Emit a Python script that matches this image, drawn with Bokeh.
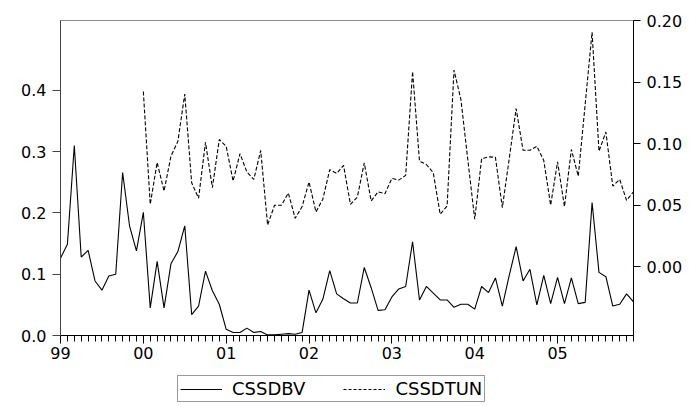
from bokeh.plotting import figure
from bokeh.models import (Range1d, LinearAxis, FixedTicker, Legend, LegendItem,
                          ColumnDataSource, PrintfTickFormatter)
from bokeh.layouts import column
from bokeh.embed import file_html
from bokeh.resources import INLINE

# Monthly data 1999M01 .. 2005M12
year_labels = ["99", "00", "01", "02", "03", "04", "05"]

cssdbv = [0.126, 0.149, 0.310, 0.128, 0.139, 0.089, 0.074, 0.097, 0.100, 0.266, 0.179, 0.138,
          0.201, 0.045, 0.121, 0.045, 0.117, 0.137, 0.179, 0.034, 0.048, 0.105, 0.073, 0.051,
          0.010, 0.005, 0.005, 0.012, 0.005, 0.0065, 0.001, 0.001, 0.002, 0.003, 0.002, 0.005,
          0.074, 0.037, 0.059, 0.106, 0.068, 0.060, 0.053, 0.053, 0.111, 0.078, 0.041, 0.042,
          0.063, 0.076, 0.080, 0.153, 0.058, 0.080, 0.069, 0.058, 0.058, 0.046, 0.051, 0.051,
          0.043, 0.080, 0.070, 0.094, 0.048, 0.098, 0.145, 0.089, 0.108, 0.050, 0.098, 0.052,
          0.095, 0.052, 0.094, 0.052, 0.054, 0.217, 0.103, 0.096, 0.048, 0.051, 0.068, 0.055]

# CSSDTUN starts 2000M01
tun_start = 12
cssdtun = [0.1426, 0.0508, 0.0848, 0.0616, 0.090, 0.102, 0.1405, 0.0683, 0.0557, 0.1013, 0.0643, 0.1035,
           0.098, 0.0697, 0.092, 0.077, 0.071, 0.0946, 0.034, 0.050, 0.050, 0.060, 0.0394, 0.049,
           0.069, 0.0446, 0.055, 0.079, 0.076, 0.0824, 0.0508, 0.0567, 0.0845, 0.0535, 0.061, 0.0594,
           0.0719, 0.0705, 0.0743, 0.1588, 0.0859, 0.0832, 0.0764, 0.0427, 0.0494, 0.160, 0.136, 0.087,
           0.0386, 0.088, 0.0894, 0.0891, 0.048, 0.088, 0.1286, 0.0948, 0.0948, 0.098, 0.0865, 0.0502,
           0.0854, 0.0489, 0.0954, 0.0737, 0.132, 0.1907, 0.094, 0.1096, 0.0656, 0.071, 0.054, 0.061]

left_ticks = [0.0, 0.1, 0.2, 0.3, 0.4]
right_ticks = [0.00, 0.05, 0.10, 0.15, 0.20]
series_names = ["CSSDBV", "CSSDTUN"]

n = len(cssdbv)
x_bv = list(range(n))
x_tun = list(range(tun_start, tun_start + len(cssdtun)))

FONT = "DejaVu Sans"

p = figure(width=696, height=366, output_backend="svg", toolbar_location=None,
           x_range=Range1d(0, n - 1), y_range=Range1d(0, 0.514),
           min_border_left=60, min_border_right=63, min_border_top=20, min_border_bottom=31)
p.extra_y_ranges = {"right": Range1d(-0.0559, 0.2003)}
p.grid.visible = False
p.background_fill_color = "white"
p.border_fill_color = "white"
p.outline_line_color = "#8c8c8c"
p.outline_line_width = 1

src_bv = ColumnDataSource(dict(x=x_bv, y=cssdbv))
src_tun = ColumnDataSource(dict(x=x_tun, y=cssdtun))
p.line("x", "y", source=src_bv, line_color="black", line_width=1.1)
p.line("x", "y", source=src_tun, line_color="black", line_width=1.1,
       line_dash="4 2", y_range_name="right")

# x axis
xa = p.xaxis[0]
major = list(range(0, n, 12))
xa.ticker = FixedTicker(ticks=major, minor_ticks=list(range(n)))
xa.major_label_overrides = {m: lab for m, lab in zip(major, year_labels)}
xa.major_tick_out = 8
xa.major_tick_in = 0
xa.minor_tick_out = 6
xa.minor_tick_in = 0
xa.axis_line_color = "black"
xa.major_tick_line_color = "black"
xa.minor_tick_line_color = "black"
xa.major_label_text_font = FONT
xa.major_label_text_font_size = "16px"
xa.major_label_text_color = "black"
xa.major_label_standoff = 3

# left axis
ya = p.yaxis[0]
ya.ticker = FixedTicker(ticks=left_ticks)
ya.formatter = PrintfTickFormatter(format="%.1f")
ya.major_tick_out = 8
ya.major_tick_in = 0
ya.minor_tick_out = 0
ya.minor_tick_in = 0
ya.axis_line_color = "#444444"
ya.major_tick_line_color = "#444444"
ya.major_label_text_font = FONT
ya.major_label_text_font_size = "16px"
ya.major_label_text_color = "black"
ya.major_label_standoff = 6

# right axis
ra = LinearAxis(y_range_name="right")
ra.ticker = FixedTicker(ticks=right_ticks)
ra.formatter = PrintfTickFormatter(format="%.2f")
ra.major_tick_out = 7
ra.major_tick_in = 0
ra.minor_tick_out = 0
ra.minor_tick_in = 0
ra.axis_line_color = "black"
ra.major_tick_line_color = "black"
ra.major_label_text_font = FONT
ra.major_label_text_font_size = "16px"
ra.major_label_text_color = "black"
ra.major_label_standoff = 6
p.add_layout(ra, "right")

# legend strip below the chart: same series, drawn with a y range that keeps
# the lines out of view, so only the legend keys show
lg = figure(width=696, height=40, output_backend="svg", toolbar_location=None,
            x_range=Range1d(0, n - 1), y_range=Range1d(1, 2),
            x_axis_location=None, y_axis_location=None, min_border=0,
            min_border_left=0, min_border_right=0, min_border_top=0, min_border_bottom=0)
lg.grid.visible = False
lg.outline_line_color = None
lg.background_fill_color = "white"
lg.border_fill_color = "white"
k1 = lg.line("x", "y", source=src_bv, line_color="black", line_width=1.1)
k2 = lg.line("x", "y", source=src_tun, line_color="black", line_width=1.1, line_dash="3 2")

# the strip's frame is aligned with the chart's frame (starts at x=60)
legend = Legend(items=[LegendItem(label=series_names[0], renderers=[k1]),
                       LegendItem(label=series_names[1], renderers=[k2])],
                orientation="horizontal", location=(117, 4))
legend.label_text_font = FONT
legend.label_text_font_size = "18px"
legend.label_text_color = "black"
legend.glyph_width = 42
legend.glyph_height = 18
legend.label_height = 18
legend.label_standoff = 10
legend.spacing = 38
legend.padding = 2
legend.margin = 0
legend.border_line_color = "#333333"
legend.border_line_width = 1
legend.background_fill_alpha = 1
lg.add_layout(legend, "center")

layout = column(p, lg, spacing=0)
open("out.html", "w").write(file_html(layout, INLINE))
